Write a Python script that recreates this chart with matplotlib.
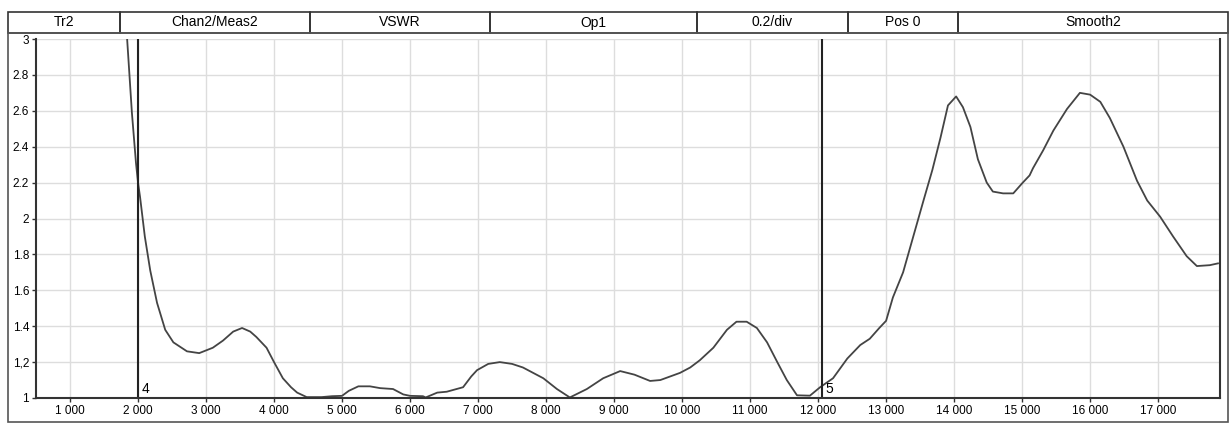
import matplotlib.pyplot as plt
from matplotlib.patches import Rectangle

plt.rcParams['font.family'] = ['Liberation Sans', 'DejaVu Sans']

# header fields of the analyzer trace
header_labels = ['Tr2', 'Chan2/Meas2', 'VSWR', 'Op1', '0.2/div', 'Pos 0', 'Smooth2']
header_edges = [8, 120, 310, 490, 697, 848, 958, 1228]  # pixel columns

# trace (frequency, VSWR)
freq = [1800, 1840, 1910, 1970, 2000, 2030, 2100, 2180, 2280, 2400, 2520, 2720,
        2900, 3000, 3100, 3250, 3400, 3530, 3650, 3740, 3890, 4000, 4130, 4250,
        4340, 4480, 4700, 4850, 5000, 5100, 5240, 5410, 5560, 5750, 5900, 6000,
        6190, 6230, 6400, 6540, 6780, 6900, 6985, 7150, 7320, 7500, 7660, 7960,
        8160, 8350, 8600, 8840, 9090, 9300, 9530, 9680, 9970, 10120, 10260, 10460,
        10660, 10800, 10950, 11100, 11250, 11400, 11540, 11690, 11880, 12030, 12220,
        12430, 12620, 12760, 12900, 13000, 13100, 13250, 13400, 13550, 13680, 13800,
        13910, 14030, 14130, 14240, 14350, 14480, 14570, 14720, 14870, 15010, 15110,
        15160, 15310, 15460, 15660, 15850, 16000, 16150, 16290, 16490, 16690, 16840,
        17030, 17220, 17420, 17570, 17760, 17880]
vswr = [3.25, 3.00, 2.59, 2.31, 2.20, 2.12, 1.90, 1.71, 1.53, 1.38, 1.31, 1.26,
        1.25, 1.265, 1.28, 1.32, 1.37, 1.39, 1.37, 1.34, 1.28, 1.20, 1.11, 1.06,
        1.03, 1.005, 1.005, 1.01, 1.012, 1.04, 1.065, 1.065, 1.055, 1.05, 1.02, 1.012,
        1.01, 1.003, 1.03, 1.035, 1.06, 1.12, 1.155, 1.19, 1.20, 1.19, 1.17, 1.11,
        1.05, 1.003, 1.05, 1.11, 1.15, 1.13, 1.095, 1.10, 1.14, 1.17, 1.21, 1.28,
        1.38, 1.425, 1.425, 1.39, 1.31, 1.20, 1.10, 1.015, 1.013, 1.06, 1.11,
        1.22, 1.295, 1.33, 1.39, 1.43, 1.56, 1.70, 1.90, 2.10, 2.27, 2.45,
        2.63, 2.68, 2.62, 2.51, 2.33, 2.20, 2.15, 2.14, 2.14, 2.20, 2.24,
        2.28, 2.38, 2.49, 2.61, 2.70, 2.69, 2.65, 2.56, 2.40, 2.21, 2.10,
        2.01, 1.90, 1.79, 1.735, 1.74, 1.75]

markers = [2000, 12060]
marker_names = ['4', '5']

xticks = list(range(1000, 18000, 1000))
yticks = [1, 1.2, 1.4, 1.6, 1.8, 2, 2.2, 2.4, 2.6, 2.8, 3]
ytick_labels = ['1', '1,2', '1.4', '1.6', '1.8', '2', '2.2', '2.4', '2.6', '2.8', '3']

W, H = 1229, 425
fig = plt.figure(figsize=(W / 100, H / 100), dpi=100)

# header row and outer frame
for i, lab in enumerate(header_labels):
    x0, x1 = header_edges[i], header_edges[i + 1]
    fig.patches.append(Rectangle((x0 / W, 1 - 33 / H), (x1 - x0) / W, 21 / H,
                                 transform=fig.transFigure, fill=False,
                                 edgecolor='#333333', lw=1.2))
    fig.text((x0 + x1) / 2 / W, 1 - 22.5 / H, lab, ha='center', va='center',
             fontsize=10, color='black')
fig.patches.append(Rectangle((8 / W, 3 / H), 1220 / W, (422 - 33) / H,
                             transform=fig.transFigure, fill=False,
                             edgecolor='#555555', lw=1.2))

ax = fig.add_axes([36 / W, 27 / H, (1220 - 36) / W, (398 - 39) / H])
ax.plot(freq, vswr, color='#444444', lw=1.3, clip_on=True)

for m, name in zip(markers, marker_names):
    ax.axvline(m, color='#222222', lw=1.5)
    ax.text(m + 50, 1.01, name, fontsize=10, ha='left', va='bottom')

ax.set_xlim(500, 17910)
ax.set_ylim(1, 3)
ax.set_xticks(xticks)
ax.set_xticklabels([f'{t:,}'.replace(',', ' ') for t in xticks], fontsize=8.5)
ax.set_yticks(yticks)
ax.set_yticklabels(ytick_labels, fontsize=8.5)
ax.tick_params(length=3, width=1, color='#333333', pad=2)
ax.grid(color='#dddddd', lw=1)
ax.set_axisbelow(True)
for side in ['left', 'bottom', 'right']:
    ax.spines[side].set_color('#333333')
    ax.spines[side].set_linewidth(1.5)
ax.spines['top'].set_visible(False)

fig.savefig('out.png', dpi=100)
